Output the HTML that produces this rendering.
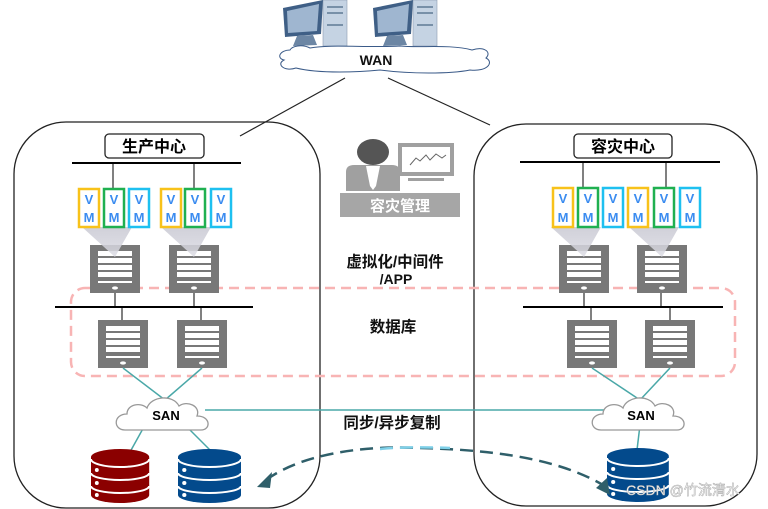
<!DOCTYPE html>
<html><head><meta charset="utf-8"><style>
html,body{margin:0;padding:0;background:#fff;}
svg{display:block;}
text{font-family:"Liberation Sans","Noto Sans CJK SC",sans-serif;font-weight:bold;}
</style></head><body>
<svg width="768" height="509" viewBox="0 0 768 509" xmlns="http://www.w3.org/2000/svg">
<defs>
<linearGradient id="tri" x1="0" y1="0" x2="0" y2="1"><stop offset="0" stop-color="#c8c8d2"/><stop offset="1" stop-color="#dcdce4"/></linearGradient>
<g id="srv">
 <rect x="0" y="0" width="50" height="48" fill="#787878"/>
 <rect x="8" y="6" width="34" height="5" fill="#fff"/>
 <rect x="8" y="13" width="34" height="5" fill="#fff"/>
 <rect x="8" y="20" width="34" height="5" fill="#fff"/>
 <rect x="8" y="27" width="34" height="5" fill="#fff"/>
 <rect x="8" y="36" width="34" height="2" fill="#fff"/>
 <ellipse cx="25" cy="43" rx="3" ry="1.6" fill="#fff"/>
</g>
<g id="srvt">
 <use href="#srv"/>
 <polygon points="-8,-18 42,-18 25,12" fill="url(#tri)" opacity="0.85"/>
</g>
<g id="db">
 <path d="M0,8 A30,8 0 0 1 60,8 V46 A30,8 0 0 1 0,46 Z"/>
 <path d="M0,10 A30,8 0 0 0 60,10" fill="none" stroke="#fff" stroke-width="2"/>
 <path d="M0,24 A30,7 0 0 0 60,24" fill="none" stroke="#fff" stroke-width="2"/>
 <path d="M0,37 A30,7 0 0 0 60,37" fill="none" stroke="#fff" stroke-width="2"/>
 <circle cx="6" cy="21" r="2" fill="#fff"/>
 <circle cx="6" cy="34" r="2" fill="#fff"/>
 <circle cx="6" cy="46" r="2" fill="#fff"/>
</g>
<g id="cloud">
 <path d="M-40,12 C-52,12 -52,-4 -38,-4 C-38,-14 -24,-16 -18,-10 C-14,-22 8,-24 14,-12 C22,-18 36,-12 32,-2 C46,-2 46,12 36,12 Z" fill="#fff" stroke="#999" stroke-width="1.3"/>
</g>
<g id="pc">
 <rect x="40" y="0" width="24" height="46" fill="#c5d3e3" stroke="#8a9bb0" stroke-width="0.6"/>
 <rect x="44" y="6" width="16" height="2" fill="#7890a8"/>
 <rect x="44" y="12" width="16" height="2" fill="#7890a8"/>
 <rect x="44" y="24" width="16" height="2" fill="#7890a8"/>
 <polygon points="0,8 40,0 38,34 2,37" fill="#3f5f86"/>
 <polygon points="4,11 36,4 34,31 5,33" fill="#9fb6d0"/>
 <polygon points="14,36 30,35 34,45 10,46" fill="#6c86a4"/>
</g>
</defs>

<rect x="14" y="122" width="306" height="386" rx="52" fill="none" stroke="#222" stroke-width="1.3"/>
<rect x="474" y="124" width="283" height="382" rx="52" fill="none" stroke="#222" stroke-width="1.3"/>

<use href="#pc" x="283" y="0"/>
<use href="#pc" x="373" y="0"/>
<path d="M290,50 C280,50 276,58 284,60 C276,64 284,72 296,68 C320,74 360,72 380,70 C410,74 450,74 470,70 C488,72 494,62 486,58 C492,52 484,46 472,50 C450,44 420,48 400,46 C370,48 330,44 310,48 C302,44 292,46 290,50 Z" fill="#fff" stroke="#3a5a88" stroke-width="1"/>
<text x="376" y="65" font-size="14" text-anchor="middle" fill="#111">WAN</text>
<line x1="345" y1="78" x2="240" y2="136" stroke="#222" stroke-width="1.2"/>
<line x1="388" y1="78" x2="490" y2="125" stroke="#222" stroke-width="1.2"/>

<ellipse cx="373" cy="152" rx="16" ry="13" fill="#555"/>
<path d="M346,191 V172 Q346,165 354,165 H392 Q400,165 400,172 V191 Z" fill="#a0a0a0"/>
<polygon points="366,166 380,166 376,186 373,190 370,186" fill="#fff"/>
<rect x="398" y="143" width="56" height="33" fill="#a0a0a0"/>
<rect x="402" y="147" width="48" height="25" fill="#fff"/>
<polyline points="410,165 416,158 420,161 426,155 430,160 436,154 442,158 446,155" fill="none" stroke="#666" stroke-width="1"/>
<rect x="408" y="178" width="36" height="3" fill="#a0a0a0"/>
<rect x="340" y="193" width="120" height="24" fill="#a6a6a6"/>
<text x="400" y="211" font-size="15" text-anchor="middle" fill="#fff">容灾管理</text>

<text x="395" y="267" font-size="15.5" text-anchor="middle" fill="#111">虚拟化/中间件</text>
<text x="396" y="284" font-size="14" text-anchor="middle" fill="#111">/APP</text>
<text x="393" y="332" font-size="15.5" text-anchor="middle" fill="#111">数据库</text>
<text x="392" y="428" font-size="15.5" text-anchor="middle" fill="#111">同步/异步复制</text>

<rect x="71" y="288" width="664" height="88" rx="14" fill="none" stroke="#f8b4b4" stroke-width="2.5" stroke-dasharray="10,6"/>

<rect x="105" y="134" width="99" height="24" rx="4" fill="#fff" stroke="#222" stroke-width="1.3"/>
<text x="154" y="152" font-size="16" text-anchor="middle" fill="#000">生产中心</text>
<line x1="72" y1="163" x2="241" y2="163" stroke="#000" stroke-width="2"/>
<line x1="113" y1="163" x2="113" y2="188" stroke="#000" stroke-width="1"/>
<line x1="194" y1="163" x2="194" y2="188" stroke="#000" stroke-width="1"/>
<use href="#srvt" x="90" y="245"/>
<use href="#srvt" x="169" y="245"/>
<g stroke-width="2.5" fill="#fff">
<rect x="79" y="189" width="20" height="38" stroke="#f8c21a"/>
<rect x="104" y="189" width="20" height="38" stroke="#1fb050"/>
<rect x="129" y="189" width="20" height="38" stroke="#1ec0f0"/>
<rect x="161" y="189" width="20" height="38" stroke="#f8c21a"/>
<rect x="185" y="189" width="20" height="38" stroke="#1fb050"/>
<rect x="211" y="189" width="20" height="38" stroke="#1ec0f0"/>
</g>
<line x1="115" y1="293" x2="115" y2="307" stroke="#000"/>
<line x1="194" y1="293" x2="194" y2="307" stroke="#000"/>
<line x1="55" y1="307" x2="253" y2="307" stroke="#000" stroke-width="2"/>
<line x1="122" y1="307" x2="122" y2="320" stroke="#000"/>
<line x1="201" y1="307" x2="201" y2="320" stroke="#000"/>
<use href="#srv" x="98" y="320"/>
<use href="#srv" x="177" y="320"/>

<rect x="574" y="134" width="98" height="24" rx="4" fill="#fff" stroke="#222" stroke-width="1.3"/>
<text x="623" y="152" font-size="16" text-anchor="middle" fill="#000">容灾中心</text>
<line x1="520" y1="162" x2="720" y2="162" stroke="#000" stroke-width="2"/>
<line x1="583" y1="162" x2="583" y2="187" stroke="#000"/>
<line x1="666" y1="162" x2="666" y2="187" stroke="#000"/>
<use href="#srvt" x="559" y="245"/>
<use href="#srvt" x="637" y="245"/>
<g stroke-width="2.5" fill="#fff">
<rect x="553" y="188" width="20" height="39" stroke="#f8c21a"/>
<rect x="578" y="188" width="20" height="39" stroke="#1fb050"/>
<rect x="603" y="188" width="20" height="39" stroke="#1ec0f0"/>
<rect x="628" y="188" width="20" height="39" stroke="#f8c21a"/>
<rect x="654" y="188" width="20" height="39" stroke="#1fb050"/>
<rect x="680" y="188" width="20" height="39" stroke="#1ec0f0"/>
</g>
<line x1="584" y1="293" x2="584" y2="307" stroke="#000"/>
<line x1="661" y1="293" x2="661" y2="307" stroke="#000"/>
<line x1="523" y1="307" x2="723" y2="307" stroke="#000" stroke-width="2"/>
<line x1="591" y1="307" x2="591" y2="320" stroke="#000"/>
<line x1="670" y1="307" x2="670" y2="320" stroke="#000"/>
<use href="#srv" x="567" y="320"/>
<use href="#srv" x="645" y="320"/>

<g font-size="13" fill="#3b8cf0" text-anchor="middle">
<text x="89" y="204">V</text><text x="89" y="222">M</text>
<text x="114" y="204">V</text><text x="114" y="222">M</text>
<text x="139" y="204">V</text><text x="139" y="222">M</text>
<text x="171" y="204">V</text><text x="171" y="222">M</text>
<text x="195" y="204">V</text><text x="195" y="222">M</text>
<text x="221" y="204">V</text><text x="221" y="222">M</text>
<text x="563" y="203">V</text><text x="563" y="222">M</text>
<text x="588" y="203">V</text><text x="588" y="222">M</text>
<text x="613" y="203">V</text><text x="613" y="222">M</text>
<text x="638" y="203">V</text><text x="638" y="222">M</text>
<text x="664" y="203">V</text><text x="664" y="222">M</text>
<text x="690" y="203">V</text><text x="690" y="222">M</text>
</g>

<g stroke="#4aa8a8" stroke-width="1.5">
<line x1="123" y1="368" x2="165" y2="400"/>
<line x1="202" y1="368" x2="165" y2="400"/>
<line x1="205" y1="410" x2="612" y2="410"/>
<line x1="145" y1="425" x2="130" y2="452"/>
<line x1="185" y1="425" x2="210" y2="450"/>
<line x1="592" y1="368" x2="640" y2="400"/>
<line x1="670" y1="368" x2="640" y2="400"/>
<line x1="640" y1="425" x2="637" y2="450"/>
</g>
<use href="#cloud" x="165" y="418"/>
<use href="#cloud" x="641" y="418"/>
<text x="166" y="420" font-size="13" text-anchor="middle" fill="#000">SAN</text>
<text x="641" y="420" font-size="13" text-anchor="middle" fill="#000">SAN</text>

<use href="#db" x="91" y="449" fill="#8b0000" transform="translate(91,449) scale(0.97,1) translate(-91,-449)"/>
<use href="#db" x="178" y="449" fill="#034a8c" transform="translate(178,449) scale(1.05,1) translate(-178,-449)"/>
<use href="#db" x="607" y="448" fill="#034a8c" transform="translate(607,448) scale(1.03,1) translate(-607,-448)"/>

<path d="M266,480 C300,455 360,445 420,448 C500,450 560,460 603,485" fill="none" stroke="#2f5f6a" stroke-width="2.5" stroke-dasharray="13,7"/>
<path d="M380,449 C400,447 430,447 450,448" fill="none" stroke="#7fd0e8" stroke-width="2.5" stroke-dasharray="13,7"/>
<polygon points="257,487 272,472 270,488" fill="#2f5f6a"/>
<polygon points="610,495 596,488 607,478" fill="#2f5f6a"/>

<text x="683" y="495" font-size="14" text-anchor="middle" fill="#fff" stroke="#aaa" stroke-width="0.5" style="font-weight:normal">CSDN @竹流清水</text>
</svg>
</body></html>
